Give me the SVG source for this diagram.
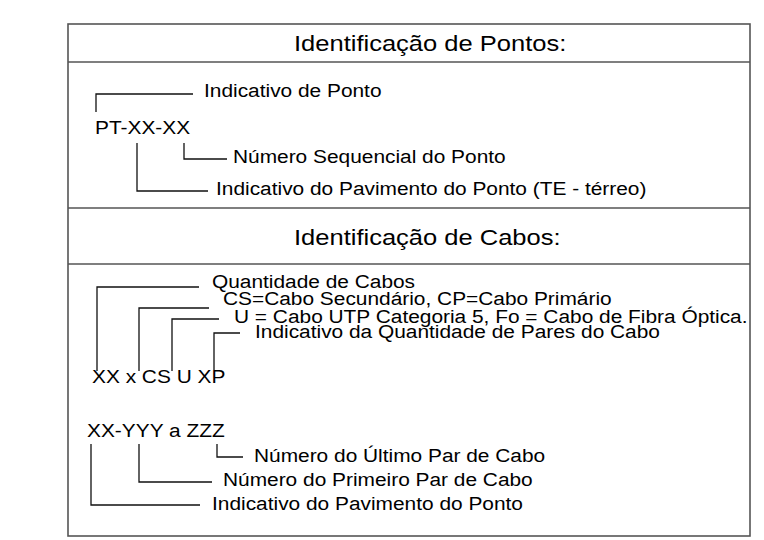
<svg xmlns="http://www.w3.org/2000/svg" width="764" height="540" viewBox="0 0 764 540">
<style>
  text { font-family: "Liberation Sans", Arial, sans-serif; fill: #000; }
  .t { font-size: 22px; }
  .b { font-size: 18px; }
  .frame { fill: none; stroke: #555; stroke-width: 1.6; }
  .lead { fill: none; stroke: #111; stroke-width: 1.3; }
</style>
<rect width="764" height="540" fill="#fff"/>
<g id="frame">
  <rect class="frame" x="68" y="24" width="682" height="512"/>
  <line class="frame" x1="68" y1="62" x2="750" y2="62" stroke="#777"/>
  <line class="frame" x1="68" y1="208" x2="750" y2="208"/>
  <line class="frame" x1="68" y1="264" x2="750" y2="264"/>
</g>
<g id="connectors">
  <path class="lead" d="M96,112 V94 H193"/>
  <path class="lead" d="M184,143 V159 H227"/>
  <path class="lead" d="M137,143 V191 H208"/>
  <path class="lead" d="M97,371 V287 H199"/>
  <path class="lead" d="M139,371 V308 H209"/>
  <path class="lead" d="M172,371 V319 H219"/>
  <path class="lead" d="M214,370 V333 H240"/>
  <path class="lead" d="M91,444 V505 H200"/>
  <path class="lead" d="M139,444 V482 H212"/>
  <path class="lead" d="M217,444 V457 H243"/>
</g>
<g id="title-pontos"><text class="t" transform="matrix(1.16 0 0 1 294 51)">Identificação de Pontos:</text></g>
<g id="pt-code"><text class="b" transform="matrix(1.16 0 0 1 95 134)">PT-XX-XX</text></g>
<g id="pt-indicativo"><text class="b" transform="matrix(1.16 0 0 1 204 97)">Indicativo de Ponto</text></g>
<g id="pt-sequencial"><text class="b" transform="matrix(1.16 0 0 1 233 163)">Número Sequencial do Ponto</text></g>
<g id="pt-pavimento"><text class="b" transform="matrix(1.16 0 0 1 216 195)">Indicativo do Pavimento do Ponto (TE - térreo)</text></g>
<g id="title-cabos"><text class="t" transform="matrix(1.16 0 0 1 294 245)">Identificação de Cabos:</text></g>
<g id="cabo-code"><text class="b" transform="matrix(1.16 0 0 1 92 383)">XX x CS U XP</text></g>
<g id="cabo-quantidade"><text class="b" transform="matrix(1.16 0 0 1 212 288)">Quantidade de Cabos</text></g>
<g id="cabo-tipo"><text class="b" transform="matrix(1.16 0 0 1 223 305)">CS=Cabo Secundário, CP=Cabo Primário</text></g>
<g id="cabo-meio"><text class="b" transform="matrix(1.16 0 0 1 234 323)">U = Cabo UTP Categoria 5, Fo = Cabo de Fibra Óptica.</text></g>
<g id="cabo-pares"><text class="b" transform="matrix(1.16 0 0 1 255 338)">Indicativo da Quantidade de Pares do Cabo</text></g>
<g id="par-code"><text class="b" transform="matrix(1.16 0 0 1 87 437)">XX-YYY a ZZZ</text></g>
<g id="par-ultimo"><text class="b" transform="matrix(1.16 0 0 1 254 462)">Número do Último Par de Cabo</text></g>
<g id="par-primeiro"><text class="b" transform="matrix(1.16 0 0 1 223 486)">Número do Primeiro Par de Cabo</text></g>
<g id="par-pavimento"><text class="b" transform="matrix(1.16 0 0 1 212 510)">Indicativo do Pavimento do Ponto</text></g>
</svg>
